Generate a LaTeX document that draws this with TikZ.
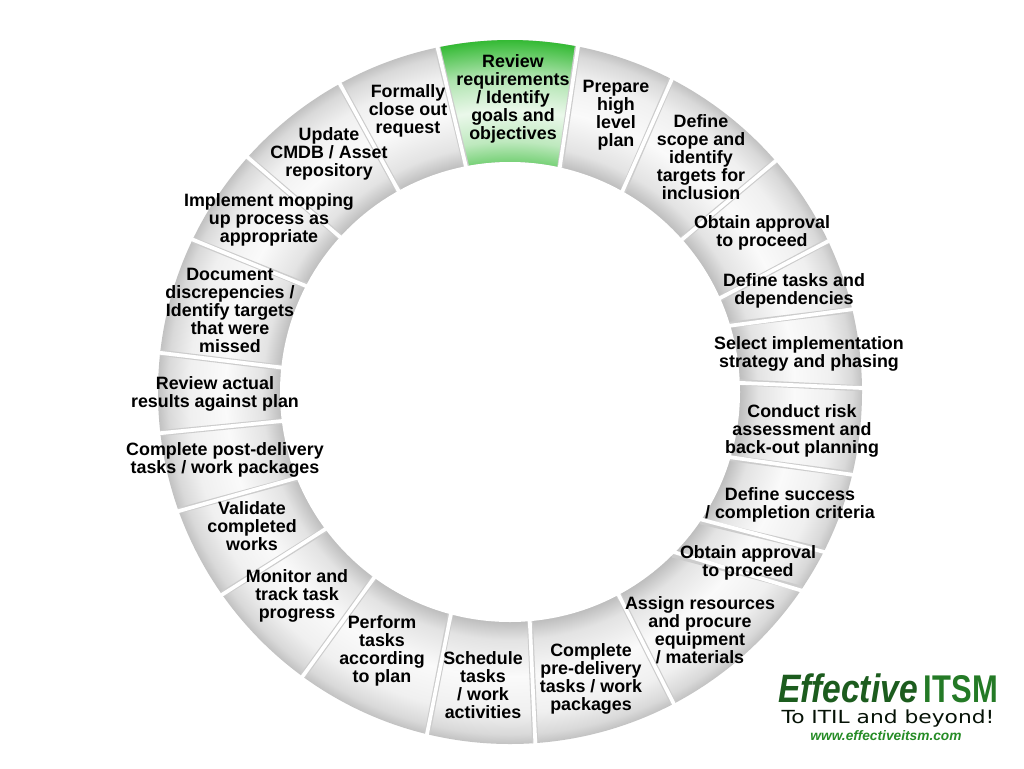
\documentclass[tikz,border=0pt]{standalone}
\usepackage{fontspec}
\setmainfont{Liberation Sans}
\newfontfamily\tagfont{DejaVu Sans}
\usepackage{tikz}

\definecolor{leafgreen}{RGB}{52,186,52}
\definecolor{logogreen}{RGB}{28,92,30}
\definecolor{itsmgreen}{RGB}{36,122,38}
\definecolor{urlgreen}{RGB}{38,140,38}

\pgfdeclareradialshading{ringshade}{\pgfpoint{0bp}{0bp}}{%
  color(0bp)=(white); color(16.2bp)=(black!27); color(17.6bp)=(black!11);
  color(20.2bp)=(black!2); color(22.8bp)=(black!6); color(24.3bp)=(black!15);
  color(25bp)=(black!24); color(50bp)=(black!24)}
\pgfdeclareradialshading{greenshade}{\pgfpoint{0bp}{0bp}}{%
  color(0bp)=(white); color(16.2bp)=(leafgreen!70!white); color(17.8bp)=(leafgreen!32!white);
  color(20bp)=(leafgreen!10!white); color(22.5bp)=(leafgreen!40!white);
  color(25bp)=(leafgreen); color(50bp)=(leafgreen)}

\begin{document}
\begin{tikzpicture}[x=0.75pt, y=-0.75pt,
    phasetext/.style={font=\fontsize{13.4}{13.5}\selectfont\bfseries, align=center,
      inner sep=0pt, yshift=-1.5pt},
    rim/.style={black!20, line width=4.5pt},
    gap/.style={white, line width=2.8pt}]

  \useasboundingbox (0,0) rectangle (1024,768);

  \begin{scope}[shift={(510,392)}, yscale=-1]
    \shade [shading=ringshade] (0,0) circle (352);

    \begin{scope}
      \clip (101.9:352) arc [start angle=101.9, end angle=78.9, radius=352]
        -- (77.4:230) arc [start angle=77.4, end angle=101, radius=230] -- cycle;
      \shade [shading=greenshade] (0,0) circle (352);
    \end{scope}

    \begin{scope}
      \clip (0,0) circle (352);
      \foreach \ao/\ai in {101.9/101, 78.9/77.4, 62.7/60.6, 41/41.6, 25.4/24,
          13.5/17, 0.6/2.4, -13.5/-16.7, -26.8/-34.2, -34/-45, -62.3/-61.8,
          -85.9/-85, -103.6/-105, -126.1/-126.2, -144.9/-143.3, -160.3/-157.9,
          -173.3/-172.7, 173.6/173.9, 154.4/152.4, 138.2/137.6, 118.9/119}
        \draw [rim] (\ai:230) -- (\ao:352);
    \end{scope}

    \fill [white] (0,0) circle (230);

    \foreach \ao/\ai in {101.9/101, 78.9/77.4, 62.7/60.6, 41/41.6, 25.4/24,
        13.5/17, 0.6/2.4, -13.5/-16.7, -26.8/-34.2, -34/-45, -62.3/-61.8,
        -85.9/-85, -103.6/-105, -126.1/-126.2, -144.9/-143.3, -160.3/-157.9,
        -173.3/-172.7, 173.6/173.9, 154.4/152.4, 138.2/137.6, 118.9/119}
      \draw [gap] (\ai:224) -- (\ao:358);
  \end{scope}

  \node [phasetext] (review) at (513,97) {Review\\requirements\\/ Identify\\goals and\\objectives};
  \node [phasetext] (prepare) at (616,113) {Prepare\\high\\level\\plan};
  \node [phasetext] (scope) at (701,155) {Define\\scope and\\identify\\targets for\\inclusion};
  \node [phasetext] (approve1) at (762,231) {Obtain approval\\to proceed};
  \node [phasetext] (tasks) at (794,289) {Define tasks and\\dependencies};
  \node [phasetext] (strategy) at (809,352) {Select implementation\\strategy and phasing};
  \node [phasetext] (risk) at (802,429) {Conduct risk\\assessment and\\back-out planning};
  \node [phasetext] (success) at (790,503) {Define success\\/ completion criteria};
  \node [phasetext] (approve2) at (748,561) {Obtain approval\\to proceed};
  \node [phasetext] (assign) at (700,628) {Assign resources\\and procure\\equipment\\/ materials};
  \node [phasetext] (predel) at (591,677) {Complete\\pre-delivery\\tasks / work\\packages};
  \node [phasetext] (schedule) at (483,683) {Schedule\\tasks\\/ work\\activities};
  \node [phasetext] (perform) at (382,649) {Perform\\tasks\\according\\to plan};
  \node [phasetext] (monitor) at (297,594) {Monitor and\\track task\\progress};
  \node [phasetext] (validate) at (252,524) {Validate\\completed\\works};
  \node [phasetext] (postdel) at (225,458) {Complete post-delivery\\tasks / work packages};
  \node [phasetext] (results) at (215,392) {Review actual\\results against plan};
  \node [phasetext] (discrep) at (230,308) {Document\\discrepencies /\\Identify targets\\that were\\missed};
  \node [phasetext] (mopup) at (269,218) {Implement mopping\\up process as\\appropriate};
  \node [phasetext] (cmdb) at (329,152) {Update\\CMDB / Asset\\repository};
  \node [phasetext] (close) at (408,109) {Formally\\close out\\request};

  % logo
  \node [font=\fontsize{25.2}{25.2}\selectfont\bfseries\itshape, text=logogreen,
    anchor=base west, inner sep=0pt, yscale=1.18] (effective) at (778,702) {Effective};
  \node [font=\fontsize{29}{29}\selectfont\bfseries, text=itsmgreen,
    anchor=base east, inner sep=0pt, xscale=0.8] (itsm) at (998,702) {ITSM};
  \node [font=\tagfont\fontsize{13.5}{13.5}\selectfont, text=black!80!logogreen,
    anchor=base, inner sep=0pt, xscale=1.21] (tagline) at (888,723) {To ITIL and beyond!};
  \node [font=\fontsize{10.3}{10.3}\selectfont\bfseries\itshape, text=urlgreen,
    anchor=base, inner sep=0pt] (url) at (886,740) {www.effectiveitsm.com};

\end{tikzpicture}
\end{document}
